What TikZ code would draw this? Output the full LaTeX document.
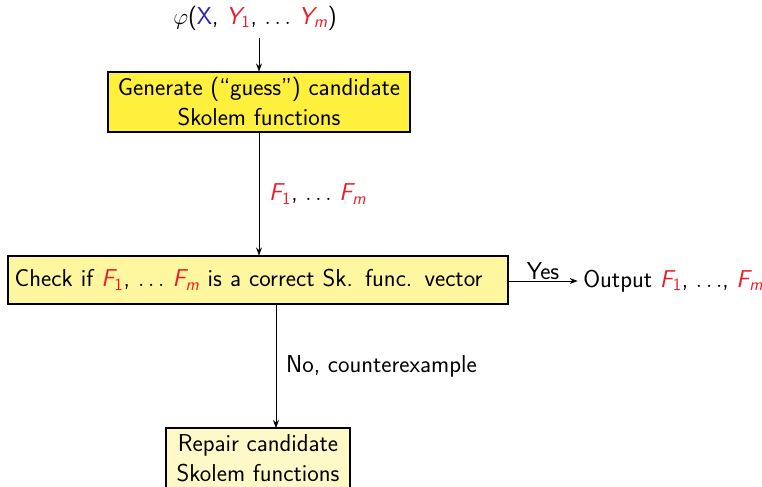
\documentclass[tikz,border=0pt]{standalone}
\usepackage{fontspec}
\usetikzlibrary{arrows.meta}
\definecolor{boxA}{RGB}{255,240,62}
\definecolor{boxB}{RGB}{255,246,160}
\definecolor{boxC}{RGB}{255,249,200}
\definecolor{varred}{RGB}{235,30,40}
\definecolor{varblue}{RGB}{40,40,170}
\newcommand{\rv}[2]{\textcolor{varred}{\itshape #1\textsubscript{#2}}}
\newcommand{\dd}{\ensuremath{\ldots}}
\begin{document}
\begin{tikzpicture}[x=0.75pt,y=-0.75pt,
  every node/.style={font=\sffamily\fontsize{18.3}{22.5}\selectfont},
  stepbox/.style={draw=black,line width=0.8pt,inner sep=0pt,align=center},
  flow/.style={-{Stealth[length=6pt,width=4.5pt]},line width=0.6pt}]
\useasboundingbox (0,0) rectangle (762,486);
% input formula
\node (phi) at (255,18) {$\varphi$(\textcolor{varblue}{X}, \rv{Y}{\upshape 1}, \dd\ \rv{Y}{m})};
% generate step
\node[stepbox,fill=boxA,minimum width=226.5pt,minimum height=45pt] (gen) at (259,102)
  {Generate (``guess'') candidate\\Skolem functions};
% check step
\node[stepbox,fill=boxB,minimum width=375pt,minimum height=36pt,text width=365pt,align=left] (chk) at (258,280)
  {\raisebox{-4.5pt}{Check if \rv{F}{\upshape 1}, \dd\ \rv{F}{m} is a correct Sk. func. vector}};
% repair step
\node[stepbox,fill=boxC,minimum width=138pt,minimum height=45pt] (rep) at (258,458)
  {Repair candidate\\Skolem functions};
% output
\node[anchor=west,inner sep=0pt] (out) at (583,281) {Output \rv{F}{\upshape 1}, \dd, \rv{F}{m}};
% connectors
\coordinate (top) at (259,38);
\draw[flow] (top) -- (gen.north);
\draw[flow] (gen.south) -- node[right,xshift=4pt] {\rv{F}{\upshape 1}, \dd\ \rv{F}{m}} (gen.south |- chk.north);
\draw[flow] (chk.east |- 0,281) -- node[above,yshift=-3pt] {Yes} ([xshift=-4pt]out.west);
\coordinate (chkb) at (276,304);
\coordinate (repn) at (276,428);
\draw[flow] (chkb) -- node[right,xshift=4pt] {No, counterexample} (repn);
\end{tikzpicture}
\end{document}
